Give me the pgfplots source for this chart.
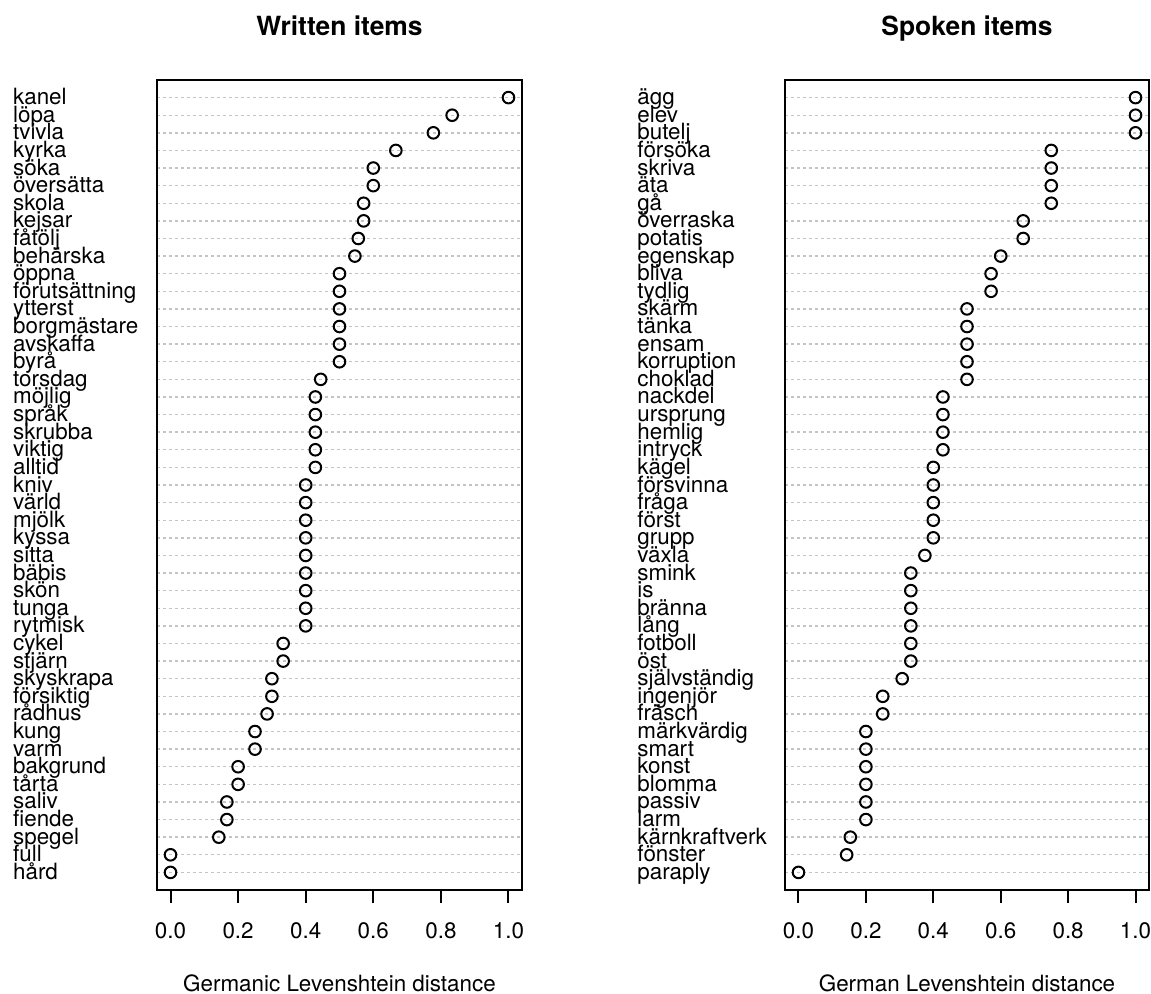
\documentclass[border=0pt]{standalone}
\usepackage{fontspec}
\setmainfont{TeX Gyre Heros}
\usepackage{pgfplots}
\usepackage{pgfplotstable}
\pgfplotsset{compat=1.18}
\definecolor{gridgray}{HTML}{C4C4C4}

\pgfplotstableread{
y x
45 1
44 0.8333
43 0.7778
42 0.6667
41 0.6
40 0.6
39 0.5714
38 0.5714
37 0.5556
36 0.5455
35 0.5
34 0.5
33 0.5
32 0.5
31 0.5
30 0.5
29 0.4444
28 0.4286
27 0.4286
26 0.4286
25 0.4286
24 0.4286
23 0.4
22 0.4
21 0.4
20 0.4
19 0.4
18 0.4
17 0.4
16 0.4
15 0.4
14 0.3333
13 0.3333
12 0.3
11 0.3
10 0.2857
9 0.25
8 0.25
7 0.2
6 0.2
5 0.1667
4 0.1667
3 0.1429
2 0
1 0
}\written

\pgfplotstableread{
y x
45 1
44 1
43 1
42 0.75
41 0.75
40 0.75
39 0.75
38 0.6667
37 0.6667
36 0.6
35 0.5714
34 0.5714
33 0.5
32 0.5
31 0.5
30 0.5
29 0.5
28 0.4286
27 0.4286
26 0.4286
25 0.4286
24 0.4
23 0.4
22 0.4
21 0.4
20 0.4
19 0.375
18 0.3333
17 0.3333
16 0.3333
15 0.3333
14 0.3333
13 0.3333
12 0.3077
11 0.25
10 0.25
9 0.2
8 0.2
7 0.2
6 0.2
5 0.2
4 0.2
3 0.1538
2 0.1429
1 0
}\spoken

\pgfplotsset{dotchart/.style={
  scale only axis, height=405pt, anchor=south west,
  xmin=-0.04, xmax=1.04, ymin=0, ymax=46,
  xtick={0,0.2,0.4,0.6,0.8,1},
  xticklabels={0.0,0.2,0.4,0.6,0.8,1.0},
  ytick={1,...,45},
  xtick pos=lower,
  axis line style={line width=1pt},
  tick align=outside, major tick length=6.5pt,
  xtick style={line width=1pt, black},
  ytick style={draw=none},
  ymajorgrids,
  grid style={gridgray, line width=0.7pt, dash pattern=on 1.5pt off 1.5pt},
  /pgf/number format/assume math mode=true,
  yticklabel style={anchor=base west, inner sep=0pt, yshift=-3.5pt, font=\fontsize{11.2}{12}\selectfont},
  xticklabel style={anchor=base, inner sep=0pt, yshift=-17.5pt, font=\fontsize{11.2}{12}\selectfont},
  title style={at={(axis description cs:0.5,1)}, anchor=base, inner sep=0pt, yshift=16.5pt, font=\bfseries\fontsize{13.2}{15}\selectfont},
  xlabel style={at={(axis description cs:0.5,0)}, anchor=base, inner sep=0pt, yshift=-50.5pt, font=\fontsize{11.2}{12}\selectfont},
  clip=false,
}}

\begin{document}
\begin{tikzpicture}
\useasboundingbox (0,0) rectangle (575.5pt,496.5pt);
\begin{axis}[dotchart, at={(78.5pt,51.5pt)}, width=182.5pt,
  title={Written items}, xlabel={Germanic Levenshtein distance},
  yticklabel style={xshift=-65.65pt},
  yticklabels={hård,full,spegel,fiende,saliv,tårta,bakgrund,varm,kung,rådhus,försiktig,skyskrapa,stjärn,cykel,rytmisk,tunga,skön,bäbis,sitta,kyssa,mjölk,värld,kniv,alltid,viktig,skrubba,språk,möjlig,torsdag,byrå,avskaffa,borgmästare,ytterst,förutsättning,öppna,behärska,fåtölj,kejsar,skola,översätta,söka,kyrka,tvivla,löpa,kanel}]
\addplot[only marks, mark=o, mark size=2.9pt, mark options={line width=1pt, black}] table[x=x, y=y] {\written};
\end{axis}
\begin{axis}[dotchart, at={(392.5pt,51.5pt)}, width=182pt,
  title={Spoken items}, xlabel={German Levenshtein distance},
  yticklabel style={xshift=-67.5pt},
  yticklabels={paraply,fönster,kärnkraftverk,larm,passiv,blomma,konst,smart,märkvärdig,fräsch,ingenjör,självständig,öst,fotboll,lång,bränna,is,smink,växla,grupp,först,fråga,försvinna,kägel,intryck,hemlig,ursprung,nackdel,choklad,korruption,ensam,tänka,skärm,tydlig,bliva,egenskap,potatis,överraska,gå,äta,skriva,försöka,butelj,elev,ägg}]
\addplot[only marks, mark=o, mark size=2.9pt, mark options={line width=1pt, black}] table[x=x, y=y] {\spoken};
\end{axis}
\end{tikzpicture}
\end{document}
